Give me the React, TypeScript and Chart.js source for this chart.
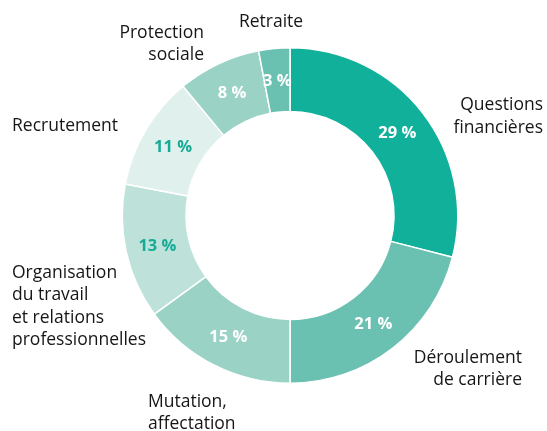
import React, { useEffect, useRef } from "react";
import { Chart, registerables } from "chart.js";

Chart.register(...registerables);

const categories = [
  "Questions financières",
  "Déroulement de carrière",
  "Mutation, affectation",
  "Organisation du travail et relations professionnelles",
  "Recrutement",
  "Protection sociale",
  "Retraite",
];
const values = [29, 21, 15, 13, 11, 8, 3];
const colors = ["#10b09b", "#6bc1b1", "#9ad3c6", "#bee2da", "#e0f1ed", "#9ad3c6", "#6bc1b1"];
const pctColors = ["#ffffff", "#ffffff", "#ffffff", "#16ab97", "#16ab97", "#ffffff", "#ffffff"];

// label layout: lines, anchor x, first line y (middle), alignment
const labelLines = [
  ["Questions", "financières"],
  ["Déroulement", "de carrière"],
  ["Mutation,", "affectation"],
  ["Organisation", "du travail", "et relations", "professionnelles"],
  ["Recrutement"],
  ["Protection", "sociale"],
  ["Retraite"],
];
const labelPos: { x: number; y: number; align: CanvasTextAlign; lh: number }[] = [
  { x: 543, y: 105, align: "right", lh: 23 },
  { x: 522, y: 358, align: "right", lh: 22 },
  { x: 148, y: 402, align: "left", lh: 22 },
  { x: 12, y: 273, align: "left", lh: 22.3 },
  { x: 12, y: 126, align: "left", lh: 22 },
  { x: 204, y: 33, align: "right", lh: 22 },
  { x: 271, y: 22, align: "center", lh: 22 },
];

const FONT = "'Open Sans', 'Noto Sans', sans-serif";

const labelPlugin = {
  id: "labelPlugin",
  afterDatasetsDraw(chart: any) {
    const ctx = chart.ctx as CanvasRenderingContext2D;
    const meta = chart.getDatasetMeta(0);
    ctx.save();
    ctx.textBaseline = "middle";
    meta.data.forEach((arc: any, i: number) => {
      const { startAngle, endAngle, innerRadius, outerRadius, x, y } = arc.getProps(
        ["startAngle", "endAngle", "innerRadius", "outerRadius", "x", "y"],
        true
      );
      const mid = (startAngle + endAngle) / 2;
      const r = (innerRadius + outerRadius) / 2;
      ctx.font = `bold 16.5px ${FONT}`;
      ctx.fillStyle = pctColors[i];
      ctx.textAlign = "center";
      ctx.fillText(`${values[i]} %`, x + Math.cos(mid) * r, y + 1 + Math.sin(mid) * r);
    });
    ctx.font = `17.5px ${FONT}`;
    ctx.fillStyle = "#161616";
    labelLines.forEach((lines, i) => {
      const p = labelPos[i];
      ctx.textAlign = p.align;
      lines.forEach((line, j) => ctx.fillText(line, p.x, p.y + j * p.lh));
    });
    ctx.restore();
  },
};

export default function App() {
  const ref = useRef<HTMLCanvasElement>(null);
  useEffect(() => {
    if (!ref.current) return;
    const chart = new Chart(ref.current, {
      type: "doughnut",
      data: {
        labels: categories,
        datasets: [
          {
            data: values,
            backgroundColor: colors,
            borderColor: "#ffffff",
            borderWidth: 1.5,
          },
        ],
      },
      options: {
        responsive: false,
        animation: false,
        cutout: "62%",
        layout: { padding: { left: 121.5, right: 88.5, top: 47, bottom: 47 } },
        plugins: { legend: { display: false }, tooltip: { enabled: false } },
      },
      plugins: [labelPlugin],
    });
    return () => chart.destroy();
  }, []);
  return (
    <div style={{ position: "fixed", left: 0, top: 0, width: 547, height: 431, background: "#fff" }}>
      <canvas ref={ref} width={547} height={431} />
    </div>
  );
}
